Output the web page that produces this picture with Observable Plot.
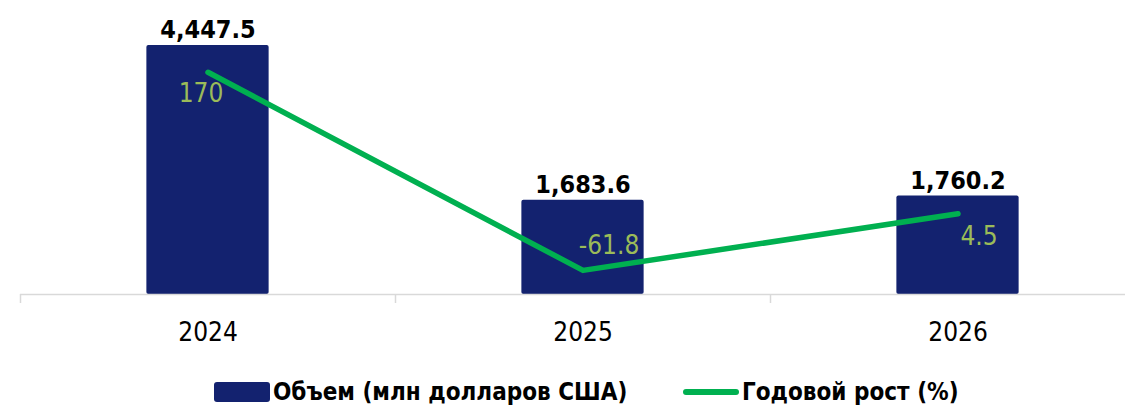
<!DOCTYPE html>
<html><head><meta charset="utf-8">
<script src="https://cdn.jsdelivr.net/npm/d3@7"></script>
<script src="https://cdn.jsdelivr.net/npm/@observablehq/plot@0.6"></script>
<style>
body{margin:0;background:#fff;overflow:hidden;width:1125px;height:406px;position:relative}
#wrap{position:absolute;left:0;top:0;width:1125px;height:370px}
#wrap svg{position:absolute;left:0;top:0;overflow:visible}
.item{position:absolute;top:380px;height:24px;display:flex;align-items:center;font:bold 24px "DejaVu Sans Condensed","DejaVu Sans",sans-serif;color:#000;white-space:nowrap}
.sw-bar{width:56px;height:20px;background:#13226F;border-radius:3px;margin-right:3px}
.sw-line{width:56px;height:6px;background:#00B050;border-radius:3px;margin-right:3px}
</style>
</head><body>
<div id="wrap"></div>
<div class="item" style="left:214px"><div class="sw-bar"></div><span id="l1"></span></div>
<div class="item" style="left:683px"><div class="sw-line"></div><span id="l2"></span></div>
<script>
const years = [2024, 2025, 2026];
const volume = [4447.5, 1683.6, 1760.2];
const growth = [170, -61.8, 4.5];
const seriesNames = ["Объем (млн долларов США)", "Годовой рост (%)"];

const data = years.map((year, i) => ({year, volume: volume[i], growth: growth[i]}));
const bounds = [...years.map(y => y - 0.5), years[years.length - 1] + 0.5];
const fmtVol = d3.format(",.1f");
const fmtGrowth = v => String(v);
const font = '"DejaVu Sans Condensed","DejaVu Sans",sans-serif';
const xScale = {type: "linear", domain: [2023.5, 2026.5], range: [20, 1145]};

document.getElementById("l1").textContent = seriesNames[0];
document.getElementById("l2").textContent = seriesNames[1];

const bars = Plot.plot({
  width: 1125, height: 370,
  marginTop: 14, marginBottom: 76, marginLeft: 20, marginRight: 0,
  style: {fontFamily: font, background: "transparent"},
  x: xScale,
  y: {domain: [0, 5000], axis: null},
  marks: [
    Plot.rect(data, {x1: d => d.year - 0.163, x2: d => d.year + 0.163, y1: 0, y2: "volume", fill: "#13226F", rx: 2}),
    Plot.axisX({ticks: bounds, tickSize: 9, tickFormat: () => "", label: null, stroke: "#d9d9d9", strokeWidth: 1.5, strokeOpacity: 1}),
    Plot.ruleY([0], {stroke: "#d9d9d9", strokeWidth: 1.5}),
    Plot.text(data, {x: "year", y: 0, text: d => String(d.year), dy: 38, lineAnchor: "middle", fontSize: 26, fill: "#000", fontFamily: font}),
    Plot.text(data, {x: "year", y: "volume", text: d => fmtVol(d.volume), dy: -7, lineAnchor: "bottom", fontSize: 25, fontWeight: "bold", fill: "#000", fontFamily: font})
  ]
});

const offsets = [[-7, 21], [26, -25], [21, 23]];
const line = Plot.plot({
  width: 1125, height: 370,
  marginTop: 0, marginBottom: 76, marginLeft: 20, marginRight: 0,
  style: {fontFamily: font, background: "transparent"},
  x: {...xScale, axis: null},
  y: {domain: [-90, 254], axis: null},
  marks: [
    Plot.line(data, {x: "year", y: "growth", stroke: "#00B050", strokeWidth: 5.5, strokeLinecap: "round", strokeLinejoin: "round"}),
    ...data.map((d, i) => Plot.text([d], {x: "year", y: "growth", text: e => fmtGrowth(e.growth), dx: offsets[i][0], dy: offsets[i][1], lineAnchor: "middle", fontSize: 26, fill: "#9BBB59", fontFamily: font}))
  ]
});

const wrap = document.getElementById("wrap");
wrap.appendChild(bars);
wrap.appendChild(line);
</script>
</body></html>
